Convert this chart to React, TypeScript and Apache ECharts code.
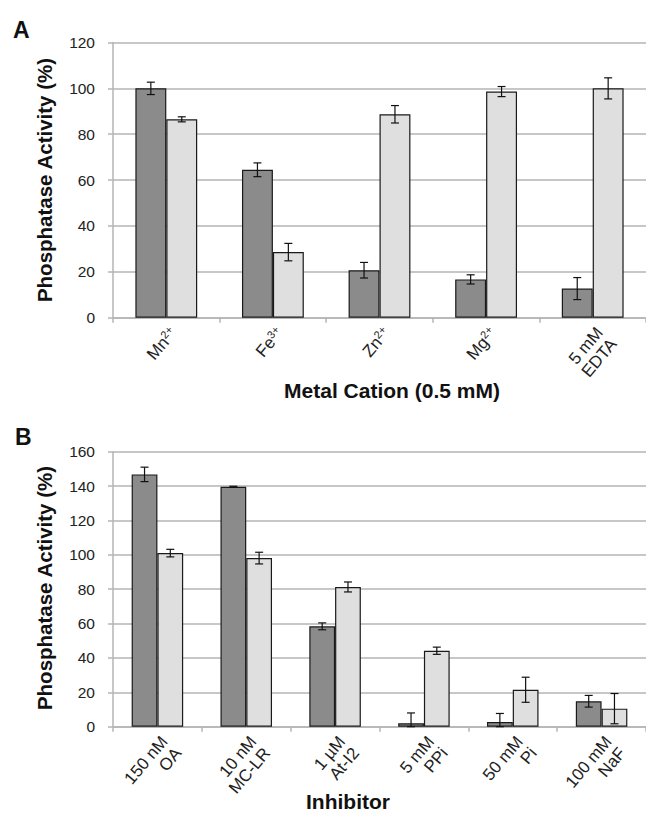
import React, { useEffect, useRef } from 'react';
import * as echarts from 'echarts';

const metalCategories = ['Mn2+', 'Fe3+', 'Zn2+', 'Mg2+', '5 mM\nEDTA'];
const metalDark = [100, 64.5, 20.7, 16.7, 12.7];
const metalDarkErr = [2.7, 3.0, 3.4, 2.0, 4.8];
const metalLight = [86.5, 28.6, 88.7, 98.6, 100];
const metalLightErr = [1.1, 3.8, 3.8, 2.2, 4.6];

const inhibCategories = ['150 nM\nOA', '10 nM\nMC-LR', '1 µM\nAt-I2', '5 mM\nPPi', '50 mM\nPi', '100 mM\nNaF'];
const inhibDark = [146.8, 139.6, 58.4, 2.0, 2.7, 14.8];
const inhibDarkErr = [4.2, 0.3, 2.0, 6.0, 5.0, 3.4];
const inhibLight = [101, 98.1, 81.3, 44.2, 21.5, 10.5];
const inhibLightErr = [2.2, 3.4, 2.9, 2.1, 7.3, 8.8];

const metalAxis = { min: 0, max: 120, interval: 20 };
const inhibAxis = { min: 0, max: 160, interval: 20 };

const DARK = '#8b8b8b';
const LIGHT = '#dfdfdf';
const GRIDC = '#b5b5b5';
const SANS = '"Liberation Sans", Arial, sans-serif';
const GAP = 0.42;
const HALF = (1 - GAP) / 4; // offset of each bar centre from category centre, as fraction of band

function errSeries(values: number[], errs: number[], idx: number, side: number) {
  return {
    type: 'custom',
    xAxisIndex: idx,
    yAxisIndex: idx,
    z: 10,
    clip: false,
    data: values.map((v, i) => [i, v, errs[i]]),
    renderItem: (params: any, api: any) => {
      const xi = api.value(0);
      const v = api.value(1);
      const e = api.value(2);
      const band = api.size([1, 0])[0];
      const c = api.coord([xi, v]);
      const x = c[0] + side * HALF * band;
      const top = api.coord([xi, v + e])[1];
      const bot = api.coord([xi, Math.max(0, v - e)])[1];
      const cap = 4;
      const st = { stroke: '#111', lineWidth: 1.2 };
      return {
        type: 'group',
        children: [
          { type: 'line', shape: { x1: x, y1: top, x2: x, y2: bot }, style: st },
          { type: 'line', shape: { x1: x - cap, y1: top, x2: x + cap, y2: top }, style: st },
          { type: 'line', shape: { x1: x - cap, y1: bot, x2: x + cap, y2: bot }, style: st },
        ],
      };
    },
  };
}

function barSeries(values: number[], idx: number, color: string) {
  return {
    type: 'bar',
    xAxisIndex: idx,
    yAxisIndex: idx,
    data: values,
    barGap: '0%',
    barCategoryGap: GAP * 100 + '%',
    itemStyle: { color, borderColor: '#1a1a1a', borderWidth: 1.2 },
  };
}

function fmtCat(v: string) {
  const m = v.match(/^([A-Za-z]+)(\d\+)$/);
  if (m) return `{n|${m[1]}}{s|${m[2]}}`;
  return v;
}

function xAxisCfg(cats: string[], idx: number) {
  return {
    type: 'category',
    gridIndex: idx,
    data: cats,
    axisLine: { show: true, lineStyle: { color: GRIDC, width: 1.5 } },
    axisTick: { show: true, length: 5, lineStyle: { color: GRIDC, width: 1.5 } },
    axisLabel: {
      rotate: 50,
      interval: 0,
      margin: 6,
      verticalAlign: 'top',
      fontFamily: SANS,
      fontSize: 17,
      color: '#222',
      lineHeight: 18,
      formatter: fmtCat,
      rich: {
        n: { fontFamily: SANS, fontSize: 17, color: '#222', lineHeight: 18, verticalAlign: 'bottom' },
        s: { fontFamily: SANS, fontSize: 11, color: '#222', lineHeight: 18, verticalAlign: 'top' },
      },
    },
  };
}

function yAxisCfg(ax: { min: number; max: number; interval: number }, idx: number) {
  return {
    type: 'value',
    gridIndex: idx,
    min: ax.min,
    max: ax.max,
    interval: ax.interval,
    axisLine: { show: true, lineStyle: { color: GRIDC, width: 1.5 } },
    axisTick: { show: true, length: 5, lineStyle: { color: GRIDC, width: 1.5 } },
    splitLine: { show: true, lineStyle: { color: GRIDC, width: 1.5 } },
    axisLabel: { margin: 18, fontFamily: SANS, fontSize: 15.5, color: '#222' },
  };
}

export default function App() {
  const ref = useRef<HTMLDivElement>(null);
  useEffect(() => {
    if (!ref.current) return;
    const chart = echarts.init(ref.current, undefined, { renderer: 'svg' });
    chart.setOption({
      animation: false,
      backgroundColor: '#ffffff',
      grid: [
        { left: 113, top: 42.5, width: 537, height: 275.2 },
        { left: 113, top: 451.7, width: 537, height: 275 },
      ],
      xAxis: [xAxisCfg(metalCategories, 0), xAxisCfg(inhibCategories, 1)],
      yAxis: [yAxisCfg(metalAxis, 0), yAxisCfg(inhibAxis, 1)],
      series: [
        barSeries(metalDark, 0, DARK),
        barSeries(metalLight, 0, LIGHT),
        errSeries(metalDark, metalDarkErr, 0, -1),
        errSeries(metalLight, metalLightErr, 0, 1),
        barSeries(inhibDark, 1, DARK),
        barSeries(inhibLight, 1, LIGHT),
        errSeries(inhibDark, inhibDarkErr, 1, -1),
        errSeries(inhibLight, inhibLightErr, 1, 1),
      ],
      graphic: [
        { type: 'text', x: 13, y: 18, style: { text: 'A', font: `bold 23px ${SANS}`, fill: '#111' } },
        { type: 'text', x: 15, y: 425, style: { text: 'B', font: `bold 23px ${SANS}`, fill: '#111' } },
        {
          type: 'text', x: 44, y: 180, rotation: Math.PI / 2,
          style: { text: 'Phosphatase Activity (%)', font: `bold 20.5px ${SANS}`, fill: '#111', align: 'center', verticalAlign: 'middle' },
        },
        {
          type: 'text', x: 44, y: 588, rotation: Math.PI / 2,
          style: { text: 'Phosphatase Activity (%)', font: `bold 20.5px ${SANS}`, fill: '#111', align: 'center', verticalAlign: 'middle' },
        },
        {
          type: 'text', x: 392, y: 390,
          style: { text: 'Metal Cation (0.5 mM)', font: `bold 21px ${SANS}`, fill: '#111', align: 'center', verticalAlign: 'middle' },
        },
        {
          type: 'text', x: 348, y: 801,
          style: { text: 'Inhibitor', font: `bold 21px ${SANS}`, fill: '#111', align: 'center', verticalAlign: 'middle' },
        },
      ],
    });
    return () => chart.dispose();
  }, []);
  return (
    <div style={{ position: 'absolute', left: 0, top: 0, width: 646, height: 813, overflow: 'hidden', background: '#fff' }}>
      <div ref={ref} style={{ width: 646, height: 813 }} />
    </div>
  );
}
